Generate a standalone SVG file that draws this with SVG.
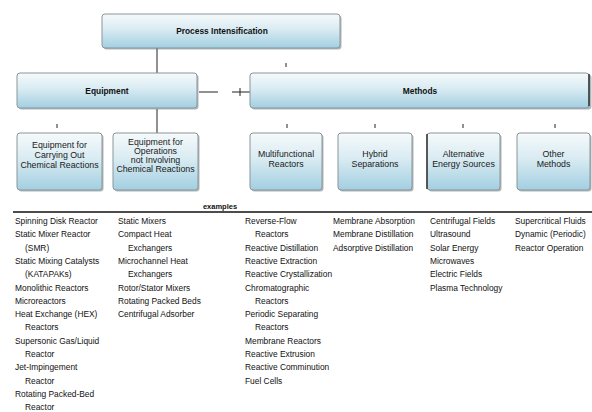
<svg xmlns="http://www.w3.org/2000/svg" width="592" height="412" viewBox="0 0 592 412">
<defs>
<linearGradient id="bx" x1="0" y1="0" x2="0" y2="1">
<stop offset="0" stop-color="#f6fafb"/>
<stop offset="0.45" stop-color="#d9ebf2"/>
<stop offset="1" stop-color="#a2cfe1"/>
</linearGradient>
</defs>
<style>
.box{fill:url(#bx);stroke:#8a9599;stroke-width:1}
.sh{fill:#6f7c81;opacity:0.55}
.t{font-family:"Liberation Sans",Arial,sans-serif;font-size:8.4px;fill:#111}
.bt{font-family:"Liberation Sans",Arial,sans-serif;font-size:8.4px;font-weight:bold;fill:#111;text-anchor:middle}
.ct{font-family:"Liberation Sans",Arial,sans-serif;font-size:8.8px;fill:#1a1a1a;text-anchor:middle}
.ln{stroke:#222;stroke-width:1;fill:none}
</style>
<rect width="592" height="412" fill="#ffffff"/>
<g id="connectors">
<line class="ln" x1="157" y1="48" x2="157" y2="73"/>
<line class="ln" x1="157" y1="109" x2="157" y2="133"/>
<line class="ln" x1="199" y1="92" x2="218" y2="92"/>
<line class="ln" x1="232" y1="92" x2="250" y2="92"/>
<line class="ln" x1="240" y1="88" x2="240" y2="96"/>
<line class="ln" x1="286" y1="63" x2="286" y2="67"/>
<line class="ln" x1="57" y1="124" x2="57" y2="128"/>
<line class="ln" x1="287" y1="124" x2="287" y2="128"/>
<line class="ln" x1="375" y1="124" x2="375" y2="128"/>
<line class="ln" x1="463" y1="124" x2="463" y2="128"/>
<line class="ln" x1="555" y1="124" x2="555" y2="128"/>
<line x1="13" y1="212" x2="592" y2="212" stroke="#111" stroke-width="1.5"/>
</g>
<g id="process-intensification">
<rect class="sh" x="103.5" y="15.5" width="238" height="34" rx="3"/>
<rect class="box" x="102" y="14" width="238" height="34" rx="3"/>
<text class="bt" x="222" y="34">Process Intensification</text>
</g>
<g id="equipment">
<rect class="sh" x="18.5" y="74.5" width="180" height="35" rx="3"/>
<rect class="box" x="17" y="73" width="180" height="35" rx="3"/>
<text class="bt" x="107" y="94">Equipment</text>
</g>
<g id="methods">
<rect class="sh" x="251.5" y="74.5" width="340" height="35" rx="3"/>
<rect class="box" x="250" y="73" width="339" height="35" rx="3"/>
<line x1="589" y1="74" x2="589" y2="106" stroke="#333" stroke-width="1.5"/>
<text class="bt" x="420" y="94">Methods</text>
</g>
<g id="eq-reactions">
<rect class="sh" x="18.5" y="134.5" width="85" height="57" rx="3"/>
<rect class="box" x="17" y="133" width="85" height="57" rx="3"/>
<text class="ct" x="59.5" y="148">Equipment for</text>
<text class="ct" x="59.5" y="158">Carrying Out</text>
<text class="ct" x="59.5" y="168">Chemical Reactions</text>
</g>
<g id="eq-operations">
<rect class="sh" x="114.5" y="134.5" width="85" height="57" rx="3"/>
<rect class="box" x="113" y="133" width="85" height="57" rx="3"/>
<text class="ct" x="155.5" y="145">Equipment for</text>
<text class="ct" x="155.5" y="154">Operations</text>
<text class="ct" x="155.5" y="163">not Involving</text>
<text class="ct" x="155.5" y="172">Chemical Reactions</text>
</g>
<g id="multifunctional-reactors">
<rect class="sh" x="251.5" y="134.5" width="72" height="57" rx="3"/>
<rect class="box" x="250" y="133" width="72" height="57" rx="3"/>
<text class="ct" x="286" y="157">Multifunctional</text>
<text class="ct" x="286" y="167">Reactors</text>
</g>
<g id="hybrid-separations">
<rect class="sh" x="339.5" y="134.5" width="74" height="57" rx="3"/>
<rect class="box" x="338" y="133" width="74" height="57" rx="3"/>
<text class="ct" x="375" y="157">Hybrid</text>
<text class="ct" x="375" y="167">Separations</text>
</g>
<g id="alternative-energy-sources">
<rect class="sh" x="428.5" y="134.5" width="73" height="57" rx="3"/>
<rect class="box" x="427" y="133" width="73" height="57" rx="3"/>
<line x1="427" y1="134" x2="427" y2="189" stroke="#333" stroke-width="1.5"/>
<text class="ct" x="463.5" y="157">Alternative</text>
<text class="ct" x="463.5" y="167">Energy Sources</text>
</g>
<g id="other-methods">
<rect class="sh" x="518.5" y="134.5" width="73" height="57" rx="3"/>
<rect class="box" x="517" y="133" width="73" height="57" rx="3"/>
<text class="ct" x="553.5" y="157">Other</text>
<text class="ct" x="553.5" y="167">Methods</text>
</g>
<g id="examples-label">
<text class="bt" x="220" y="209" style="font-size:7.5px">examples</text>
</g>
<g id="list-equipment-reactions" class="t">
<text x="15" y="224">Spinning Disk Reactor</text>
<text x="15" y="237.3">Static Mixer Reactor</text>
<text x="25" y="250.6">(SMR)</text>
<text x="15" y="263.9">Static Mixing Catalysts</text>
<text x="25" y="277.2">(KATAPAKs)</text>
<text x="15" y="290.5">Monolithic Reactors</text>
<text x="15" y="303.8">Microreactors</text>
<text x="15" y="317.1">Heat Exchange (HEX)</text>
<text x="25" y="330.4">Reactors</text>
<text x="15" y="343.7">Supersonic Gas/Liquid</text>
<text x="25" y="357">Reactor</text>
<text x="15" y="370.3">Jet-Impingement</text>
<text x="25" y="383.6">Reactor</text>
<text x="15" y="396.9">Rotating Packed-Bed</text>
<text x="25" y="410.2">Reactor</text>
</g>
<g id="list-equipment-operations" class="t">
<text x="118" y="224">Static Mixers</text>
<text x="118" y="237.3">Compact Heat</text>
<text x="128" y="250.6">Exchangers</text>
<text x="118" y="263.9">Microchannel Heat</text>
<text x="128" y="277.2">Exchangers</text>
<text x="118" y="290.5">Rotor/Stator Mixers</text>
<text x="118" y="303.8">Rotating Packed Beds</text>
<text x="118" y="317.1">Centrifugal Adsorber</text>
</g>
<g id="list-multifunctional" class="t">
<text x="245" y="224">Reverse-Flow</text>
<text x="255" y="237.3">Reactors</text>
<text x="245" y="250.6">Reactive Distillation</text>
<text x="245" y="263.9">Reactive Extraction</text>
<text x="245" y="277.2">Reactive Crystallization</text>
<text x="245" y="290.5">Chromatographic</text>
<text x="255" y="303.8">Reactors</text>
<text x="245" y="317.1">Periodic Separating</text>
<text x="255" y="330.4">Reactors</text>
<text x="245" y="343.7">Membrane Reactors</text>
<text x="245" y="357">Reactive Extrusion</text>
<text x="245" y="370.3">Reactive Comminution</text>
<text x="245" y="383.6">Fuel Cells</text>
</g>
<g id="list-hybrid" class="t">
<text x="333" y="224">Membrane Absorption</text>
<text x="333" y="237.3">Membrane Distillation</text>
<text x="333" y="250.6">Adsorptive Distillation</text>
</g>
<g id="list-energy" class="t">
<text x="430" y="224">Centrifugal Fields</text>
<text x="430" y="237.3">Ultrasound</text>
<text x="430" y="250.6">Solar Energy</text>
<text x="430" y="263.9">Microwaves</text>
<text x="430" y="277.2">Electric Fields</text>
<text x="430" y="290.5">Plasma Technology</text>
</g>
<g id="list-other" class="t">
<text x="515" y="224">Supercritical Fluids</text>
<text x="515" y="237.3">Dynamic (Periodic)</text>
<text x="515" y="250.6">Reactor Operation</text>
</g>
</svg>
